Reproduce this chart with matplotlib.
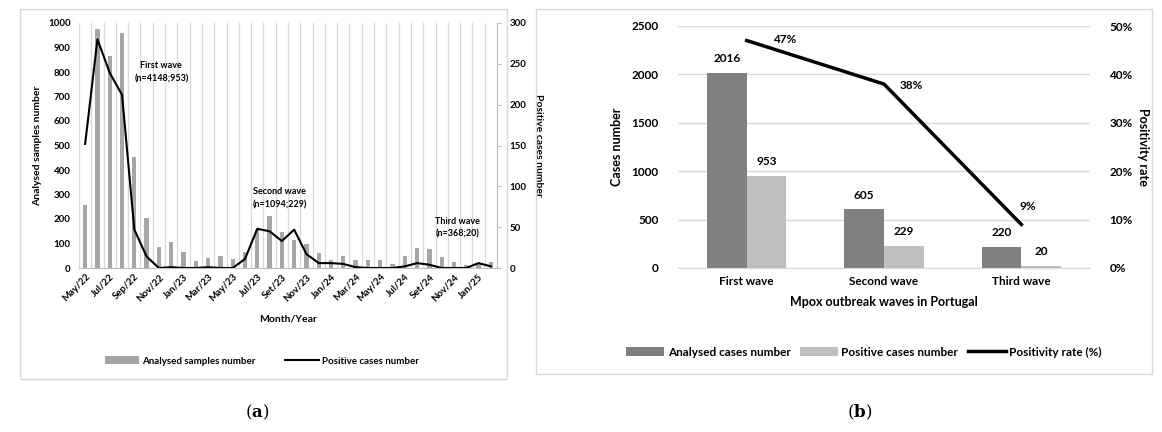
import numpy as np
import matplotlib.pyplot as plt
from matplotlib.patches import Rectangle
from matplotlib.ticker import FuncFormatter

plt.rcParams['font.family'] = ['Lato', 'DejaVu Sans']
plt.rcParams['font.weight'] = 'bold'
plt.rcParams['axes.labelweight'] = 'bold'
plt.rcParams['mathtext.fontset'] = 'dejavuserif'

# panel (a) monthly data
months = ['May/22', 'Jun/22', 'Jul/22', 'Aug/22', 'Sep/22', 'Oct/22', 'Nov/22', 'Dec/22',
          'Jan/23', 'Feb/23', 'Mar/23', 'Apr/23', 'May/23', 'Jun/23', 'Jul/23', 'Aug/23',
          'Set/23', 'Oct/23', 'Nov/23', 'Dec/23', 'Jan/24', 'Feb/24', 'Mar/24', 'Apr/24',
          'May/24', 'Jun/24', 'Jul/24', 'Aug/24', 'Set/24', 'Oct/24', 'Nov/24', 'Dec/24',
          'Jan/25', 'Feb/25']
analysed = [256, 975, 867, 959, 452, 206, 86, 106, 65, 27, 42, 48, 38, 65, 155, 213,
            145, 115, 98, 63, 32, 47, 34, 34, 34, 18, 50, 83, 79, 46, 26, 11, 18, 23]
positives = [152, 280, 239, 212, 47, 14, 0, 1, 0, 0, 1, 0, 0, 11, 48, 45,
             33, 47, 17, 6, 6, 5, 1, 0, 0, 0, 2, 6, 4, 0, 0, 0, 6, 2]

# panel (b) per wave
waves = ['First wave', 'Second wave', 'Third wave']
wave_analysed = [2016, 605, 220]
wave_positive = [953, 229, 20]
wave_rate = [0.47, 0.38, 0.09]

W, H = 1162, 432
fig = plt.figure(figsize=(W / 100, H / 100), dpi=100)

def fx(px):
    return px / W

def fy(py):
    return 1 - py / H

# panel frames
fig.patches.append(Rectangle((fx(20), fy(379)), fx(487), 370 / H, transform=fig.transFigure,
                             fill=False, edgecolor='#D9D9D9', lw=1))
fig.patches.append(Rectangle((fx(536), fy(374)), fx(616), 365 / H, transform=fig.transFigure,
                             fill=False, edgecolor='#D9D9D9', lw=1))

small = 7
# ---------------- panel (a) ----------------
ax = fig.add_axes([fx(79), fy(268), fx(418), 245 / H])
x = np.arange(len(months))
ax.bar(x, analysed, width=0.35, color='#A6A6A6', label='Analysed samples number', zorder=2)
ax.set_xlim(-0.5, len(months) - 0.5)
ax.set_ylim(0, 1000)
ax.set_yticks(np.arange(0, 1001, 100))
for b in np.arange(-0.5, len(months), 1):
    ax.axvline(b, color='#D9D9D9', lw=0.9, zorder=1)
ax.set_xticks(x[::2])
ax.set_xticklabels(months[::2], rotation=45, ha='right', rotation_mode='anchor', fontsize=small)
ax.tick_params(axis='x', length=0, pad=3)
ax.tick_params(axis='y', length=0, labelsize=small, pad=6)
for s in ['top', 'left', 'right']:
    ax.spines[s].set_visible(False)
ax.spines['bottom'].set_color('#BFBFBF')
ax.set_ylabel('Analysed samples number', fontsize=7.5, labelpad=4)
ax.set_xlabel('Month/Year', fontsize=7.5, labelpad=8)

ax2 = ax.twinx()
ax2.plot(x, positives, color='black', lw=1.5, label='Positive cases number', zorder=3)
ax2.set_ylim(0, 300)
ax2.set_yticks(np.arange(0, 301, 50))
ax2.tick_params(axis='y', length=3, color='#BFBFBF', labelsize=small, pad=6)
for s in ['top', 'left', 'bottom']:
    ax2.spines[s].set_visible(False)
ax2.spines['right'].set_color('#BFBFBF')
ax2.set_ylabel('Positive cases number', fontsize=7.5, rotation=270, labelpad=12)

ax.text(6.2, 800, 'First wave\n(n=4148;953)', fontsize=6.5, ha='center', va='center', linespacing=1.6)
ax.text(15.8, 285, 'Second wave\n(n=1094;229)', fontsize=6.5, ha='center', va='center', linespacing=1.6)
ax.text(30.3, 164, 'Third wave\n(n=368;20)', fontsize=6.5, ha='center', va='center', linespacing=1.6)

h1, l1 = ax.get_legend_handles_labels()
h2, l2 = ax2.get_legend_handles_labels()
fig.legend(h1 + h2, l1 + l2, loc='center', bbox_to_anchor=(fx(262), fy(361)), ncol=2,
           frameon=False, fontsize=7, handlelength=3.5, handleheight=0.8,
           columnspacing=3, handletextpad=0.3)

fig.text(fx(257), fy(412), r'($\mathbf{a}$)', fontsize=12, family='DejaVu Serif',
         fontweight='normal', ha='center', va='center')

# ---------------- panel (b) ----------------
bx = fig.add_axes([fx(678), fy(268), fx(412), 242 / H])
xb = np.arange(len(waves))
bw = 0.29
bars1 = bx.bar(xb - bw / 2, wave_analysed, width=bw, color='#808080', label='Analysed cases number', zorder=2)
bars2 = bx.bar(xb + bw / 2, wave_positive, width=bw, color='#BFBFBF', label='Positive cases number', zorder=2)
bx.set_xlim(-0.5, 2.5)
bx.set_ylim(0, 2500)
bx.set_yticks(np.arange(0, 2501, 500))
bx.yaxis.grid(True, color='#D9D9D9', lw=1, zorder=0)
bx.set_axisbelow(True)
bx.set_xticks(xb)
bx.set_xticklabels(waves, fontsize=8.5)
bx.tick_params(axis='x', length=0, pad=6)
bx.tick_params(axis='y', length=0, labelsize=8.5, pad=14)
for s in ['top', 'left', 'right']:
    bx.spines[s].set_visible(False)
bx.spines['bottom'].set_color('#D9D9D9')
bx.set_ylabel('Cases number', fontsize=9, labelpad=6)
bx.set_xlabel('Mpox outbreak waves in Portugal', fontsize=9, labelpad=6)
for b, v in zip(list(bars1) + list(bars2), wave_analysed + wave_positive):
    bx.text(b.get_x() + b.get_width() / 2, v + 90, str(v), fontsize=8.5, ha='center', va='bottom')

bx2 = bx.twinx()
bx2.plot(xb, wave_rate, color='black', lw=2.5, label='Positivity rate (%)', zorder=3)
bx2.set_ylim(0, 0.5)
bx2.set_yticks(np.arange(0, 0.51, 0.1))
bx2.yaxis.set_major_formatter(FuncFormatter(lambda v, p: f'{v * 100:.0f}%'))
bx2.tick_params(axis='y', length=0, labelsize=8.5, pad=14)
for s in ['top', 'left', 'right', 'bottom']:
    bx2.spines[s].set_visible(False)
bx2.set_ylabel('Positivity rate', fontsize=9, rotation=270, labelpad=12)
offsets = [(0.28, -0.01), (0.2, -0.015), (0.05, 0.026)]
for i, r in enumerate(wave_rate):
    bx2.text(xb[i] + offsets[i][0], r + offsets[i][1], f'{r * 100:.0f}%', fontsize=8.5,
             ha='center', va='bottom')

hb1, lb1 = bx.get_legend_handles_labels()
hb2, lb2 = bx2.get_legend_handles_labels()
fig.legend(hb1 + hb2, lb1 + lb2, loc='center', bbox_to_anchor=(fx(864), fy(352)), ncol=3,
           frameon=False, fontsize=8.5, handlelength=3.2, handleheight=0.8,
           columnspacing=0.8, handletextpad=0.3)

fig.text(fx(860), fy(412), r'($\mathbf{b}$)', fontsize=12, family='DejaVu Serif',
         fontweight='normal', ha='center', va='center')

fig.savefig('out.png', dpi=100)
